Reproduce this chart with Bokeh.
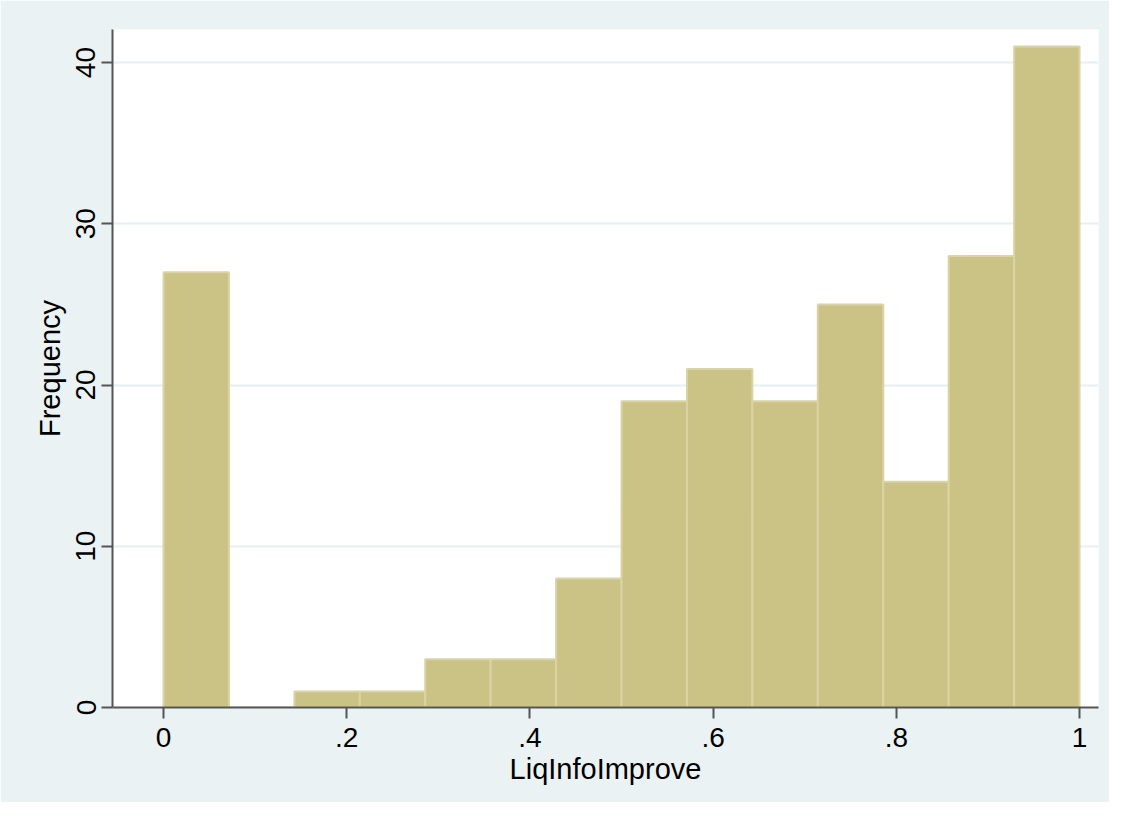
import numpy as np
from bokeh.plotting import figure
from bokeh.models import FixedTicker, Range1d
from bokeh.embed import file_html
from bokeh.resources import INLINE

# Histogram of LiqInfoImprove: 14 bins on [0, 1]
bin_start = 0.0
bin_end = 1.0
n_bins = 14
counts = [27, 0, 1, 1, 3, 3, 8, 19, 21, 19, 25, 14, 28, 41]
x_ticks = [0, 0.2, 0.4, 0.6, 0.8, 1.0]
x_tick_labels = ["0", ".2", ".4", ".6", ".8", "1"]
y_ticks = [0, 10, 20, 30, 40]
y_tick_labels = ["0", "10", "20", "30", "40"]

edges = np.linspace(bin_start, bin_end, n_bins + 1)

BG = "#EAF2F3"
FONT = "Liberation Sans"

p = figure(width=1109, height=802, output_backend="svg", toolbar_location=None,
           x_range=Range1d(-0.0557, 1.0207), y_range=Range1d(0, 42.05),
           min_border_left=112, min_border_right=11, min_border_top=29, min_border_bottom=95)
p.background_fill_color = "white"
p.border_fill_color = BG
p.outline_line_color = None

p.quad(left=edges[:-1], right=edges[1:], bottom=0, top=counts,
       fill_color="#CBC385", line_color="#DAD4A4", line_width=2)

# x axis
xa = p.xaxis[0]
xa.ticker = FixedTicker(ticks=x_ticks)
xa.major_label_overrides = {t: l for t, l in zip(x_ticks, x_tick_labels)}
xa.axis_label = "LiqInfoImprove"
# y axis
ya = p.yaxis[0]
ya.ticker = FixedTicker(ticks=y_ticks)
ya.major_label_overrides = {t: l for t, l in zip(y_ticks, y_tick_labels)}
ya.major_label_orientation = "vertical"
ya.axis_label = "Frequency"

for ax in (xa, ya):
    ax.axis_line_color = "#555555"
    ax.axis_line_width = 2
    ax.major_tick_line_color = "#555555"
    ax.major_tick_line_width = 2
    ax.major_tick_out = 11
    ax.major_tick_in = 0
    ax.minor_tick_line_color = None
    ax.major_label_text_font = FONT
    ax.major_label_text_font_size = "28px"
    ax.major_label_text_color = "black"
    ax.axis_label_text_font = FONT
    ax.axis_label_text_font_size = "29px"
    ax.axis_label_text_font_style = "normal"
    ax.axis_label_text_color = "black"

xa.major_label_standoff = 9
ya.major_label_standoff = 6
xa.axis_label_standoff = 3
ya.axis_label_standoff = 8

p.xgrid.grid_line_color = None
p.ygrid.grid_line_color = "#E6EFF1"
p.ygrid.grid_line_width = 2

open("out.html", "w").write(file_html(p, INLINE))
